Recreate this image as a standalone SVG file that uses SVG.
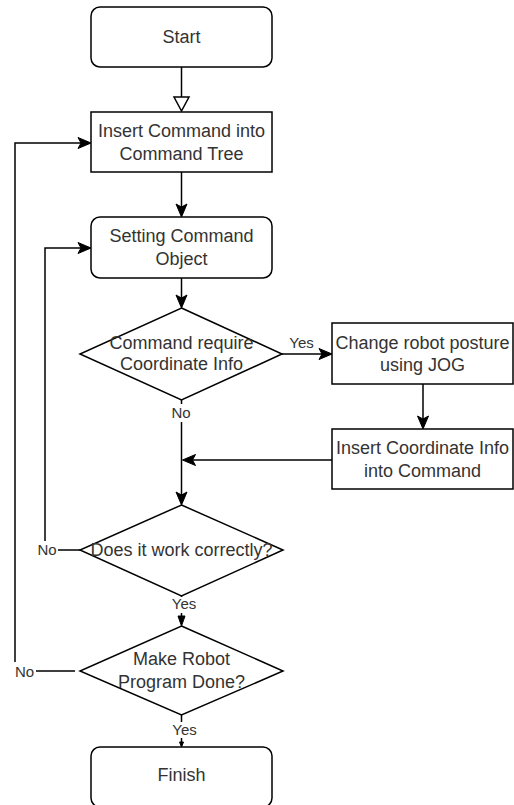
<svg xmlns="http://www.w3.org/2000/svg" width="514" height="805" viewBox="0 0 514 805">
<style>
.shape{fill:#fff;stroke:#000;stroke-width:1.5}
.t{font-family:"Liberation Sans",Arial,sans-serif;font-size:18px;fill:#333;text-anchor:middle}
.lbl{font-family:"Liberation Sans",Arial,sans-serif;font-size:15px;fill:#333;text-anchor:middle}
.line{fill:none;stroke:#000;stroke-width:1.5}
.head{fill:#000;stroke:#000;stroke-width:1}
.open{fill:#fff;stroke:#000;stroke-width:1.5}
</style>
<rect width="514" height="805" fill="#fff"/>
<g id="connectors">
  <line class="line" x1="181.5" y1="67" x2="181.5" y2="97"/>
  <polygon class="open" points="174,97 189,97 181.5,111"/>
  <line class="line" x1="181.5" y1="172" x2="181.5" y2="208"/>
  <polygon class="head" points="181.5,217 176,204 181.5,207 187,204"/>
  <polyline class="line" points="75,671 15,671 15,143 82,143"/>
  <polygon class="head" points="91,143 78,137.5 81,143 78,148.5"/>
  <polyline class="line" points="80,550 45,550 45,248 82,248"/>
  <polygon class="head" points="91,248 78,242.5 81,248 78,253.5"/>
  <line class="line" x1="181.5" y1="278" x2="181.5" y2="299"/>
  <polygon class="head" points="181.5,308 176,295 181.5,298 187,295"/>
  <line class="line" x1="282" y1="354" x2="323" y2="354"/>
  <polygon class="head" points="332,354 319,348.5 322,354 319,359.5"/>
  <line class="line" x1="423" y1="384" x2="423" y2="420"/>
  <polygon class="head" points="423,429 417.5,416 423,419 428.5,416"/>
  <line class="line" x1="332" y1="460" x2="191" y2="460"/>
  <polygon class="head" points="182.5,460 195.5,454.5 192.5,460 195.5,465.5"/>
  <line class="line" x1="181.5" y1="400" x2="181.5" y2="496"/>
  <polygon class="head" points="181.5,505 176,492 181.5,495 187,492"/>
  <line class="line" x1="181.5" y1="596" x2="181.5" y2="618"/>
  <polygon class="head" points="181.5,626 178,616 185,616"/>
  <line class="line" x1="181.5" y1="715" x2="181.5" y2="744"/>
  <polygon class="head" points="181.5,747 179.5,742 183.5,742"/>
  <rect x="36" y="541" width="22" height="18" fill="#fff"/>
  <text class="lbl" x="47" y="555">No</text>
  <rect x="12" y="662" width="24" height="18" fill="#fff"/>
  <text class="lbl" x="24.5" y="677">No</text>
  <rect x="170" y="404" width="23" height="18" fill="#fff"/>
  <text class="lbl" x="181" y="418">No</text>
  <text class="lbl" x="301.5" y="348">Yes</text>
  <rect x="170" y="597" width="28" height="16" fill="#fff"/>
  <text class="lbl" x="184" y="609">Yes</text>
  <rect x="170" y="722" width="28" height="16" fill="#fff"/>
  <text class="lbl" x="184.5" y="735">Yes</text>
</g>
<g id="start">
  <rect class="shape" x="91" y="7" width="181" height="60" rx="9"/>
  <text class="t" x="181.5" y="43">Start</text>
</g>
<g id="insert-command">
  <rect class="shape" x="91" y="112" width="181" height="60"/>
  <text class="t" x="181.5" y="137">Insert Command into</text>
  <text class="t" x="181.5" y="160">Command Tree</text>
</g>
<g id="setting-command">
  <rect class="shape" x="91" y="217" width="181" height="61" rx="9"/>
  <text class="t" x="181.5" y="242">Setting Command</text>
  <text class="t" x="181.5" y="265">Object</text>
</g>
<g id="decision-coordinate">
  <polygon class="shape" points="181.5,308 282,354 181.5,400 80,354"/>
  <text class="t" x="181.5" y="349">Command require</text>
  <text class="t" x="181.5" y="370">Coordinate Info</text>
</g>
<g id="change-posture">
  <rect class="shape" x="332" y="323" width="181" height="61"/>
  <text class="t" x="422.5" y="349">Change robot posture</text>
  <text class="t" x="422.5" y="371">using JOG</text>
</g>
<g id="insert-coordinate">
  <rect class="shape" x="332" y="429" width="181" height="60"/>
  <text class="t" x="422.5" y="454">Insert Coordinate Info</text>
  <text class="t" x="422.5" y="477">into Command</text>
</g>
<g id="decision-works">
  <polygon class="shape" points="181.5,505 283,550 181.5,596 80,550"/>
  <text class="t" x="181.5" y="556">Does it work correctly?</text>
</g>
<g id="decision-done">
  <polygon class="shape" points="181.5,626 283,671 181.5,715 80,671"/>
  <text class="t" x="181.5" y="665">Make Robot</text>
  <text class="t" x="181.5" y="688">Program Done?</text>
</g>
<g id="finish">
  <rect class="shape" x="91" y="747" width="181" height="60" rx="9"/>
  <text class="t" x="181.5" y="781">Finish</text>
</g>
</svg>
